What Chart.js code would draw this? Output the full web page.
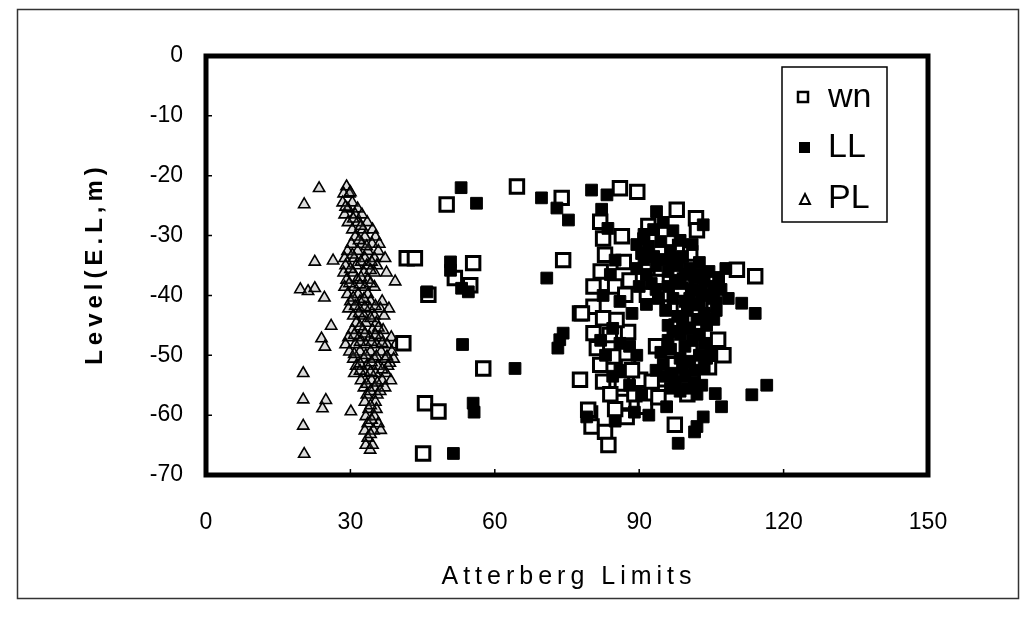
<!DOCTYPE html>
<html>
<head>
<meta charset="utf-8">
<script src="https://cdn.jsdelivr.net/npm/chart.js@4.4.1/dist/chart.umd.min.js"></script>
<style>
  html, body { margin: 0; padding: 0; background: #fff; }
  #wrap { position: relative; width: 1033px; height: 617px; }
</style>
</head>
<body>
<div id="wrap"><canvas id="chart" width="1033" height="617"></canvas></div>
<script>
// [Atterberg limit (%), level (E.L, m)]
const wnPoints = [
    [50.0,-24.8],[64.6,-21.8],[73.9,-23.7],[41.7,-33.8],[43.4,-33.8],[55.5,-34.6],[51.7,-37.1],
    [54.9,-38.3],[46.2,-39.9],[74.2,-34.1],[80.5,-38.5],[77.7,-43.0],[41.0,-48.0],[57.6,-52.2],
    [77.7,-54.1],[45.5,-58.0],[48.3,-59.4],[79.8,-59.7],[80.1,-61.9],[45.1,-66.4],
    [86.0,-22.1],[89.6,-22.7],[81.9,-27.7],[82.5,-30.5],[86.4,-30.1],[82.9,-33.2],[86.8,-34.4],
    [85.0,-38.5],[80.5,-41.9],[78.1,-43.0],[80.5,-46.3],[83.9,-46.6],[87.7,-46.1],[82.5,-54.4],
    [86.4,-54.7],[90.2,-54.1],[86.7,-57.8],[87.4,-60.3],[91.2,-58.6],[79.4,-59.1],[82.9,-62.8],
    [83.6,-65.0],[97.4,-61.6],[82.0,-36.0],[88.0,-37.5],[82.5,-43.8],[85.3,-44.1],[81.2,-48.8],
    [84.6,-50.2],[87.7,-51.9],[81.9,-51.6],[84.0,-56.5],[88.5,-52.5],[85.0,-59.0],[89.0,-56.5],
    [87.1,-39.9],[91.6,-39.9],[95.0,-39.9],[93.6,-37.7],[97.8,-25.7],[101.8,-27.1],[102.0,-29.1],
    [91.9,-28.4],[98.5,-31.9],[100.6,-33.0],[110.3,-35.7],[114.1,-36.8],[106.4,-47.4],[107.5,-50.0],
    [97.8,-45.2],[100.6,-49.4],[95.0,-54.0],[92.6,-54.4],[94.5,-35.5],[99.5,-37.5],[103.5,-39.5],
    [96.5,-42.0],[101.5,-43.5],[105.5,-41.5],[93.5,-48.5],[97.0,-51.5],[101.0,-53.0],[104.5,-52.0],
    [94.0,-57.0],[100.0,-56.5],[98.5,-39.0],[101.2,-40.0]
];
const llPoints = [
    [53.0,-22.0],[56.2,-24.6],[69.7,-23.7],[72.9,-25.4],[75.3,-27.4],[80.1,-22.4],[83.3,-23.2],
    [50.8,-34.4],[50.8,-35.8],[53.1,-38.8],[54.5,-39.4],[45.9,-39.4],[70.8,-37.1],[53.3,-48.2],
    [73.5,-47.4],[73.1,-48.8],[64.2,-52.2],[55.5,-58.0],[55.7,-59.5],[51.4,-66.4],
    [82.2,-25.6],[83.5,-28.8],[93.6,-26.0],[90.9,-30.5],[85.0,-34.1],[74.2,-46.3],[95.7,-58.6],
    [102.0,-61.9],[103.3,-60.3],[98.1,-64.7],[105.8,-56.4],[107.1,-58.6],[113.4,-56.6],[116.5,-55.0],
    [79.1,-60.3],[103.3,-28.2],[111.3,-41.3],[114.1,-43.0],[105.0,-49.7],[101.5,-62.8],
    [95.0,-27.8],[97.0,-29.2],[93.0,-29.0],[91.0,-29.8],[98.5,-30.8],[101.0,-31.5],
    [89.5,-31.5],[92.0,-31.8],[94.5,-31.0],[96.5,-32.5],[93.0,-33.5],[95.5,-34.0],[99.0,-33.5],[91.0,-34.0],
    [90.5,-33.0],[97.0,-34.0],[99.5,-36.5],[102.5,-36.5],[105.5,-38.5],
    [89.5,-35.5],[91.5,-36.5],[93.5,-35.0],[96.0,-36.0],[98.0,-35.0],[100.5,-35.5],[102.5,-34.5],
    [104.5,-36.0],[106.5,-37.0],[108.0,-35.5],[97.5,-37.5],[101.5,-37.0],[103.5,-37.5],
    [90.0,-38.5],[92.5,-38.0],[94.0,-40.5],[97.0,-40.5],[99.5,-41.0],[102.5,-41.5],[104.5,-40.0],
    [93.5,-39.0],[96.0,-38.5],[98.5,-38.0],[101.0,-39.0],[103.0,-39.5],[105.5,-40.5],[100.5,-40.5],
    [107.0,-39.0],[108.5,-40.5],[106.0,-42.5],[103.5,-43.0],[100.0,-42.5],[98.0,-43.5],[95.5,-42.5],[91.5,-41.5],
    [96.0,-45.0],[98.5,-46.5],[100.5,-45.5],[102.5,-46.5],[104.0,-45.0],[101.0,-47.5],[96.0,-47.5],
    [99.0,-44.5],[102.0,-44.0],[105.5,-44.0],[97.0,-46.0],[103.5,-48.0],[99.5,-48.5],
    [94.5,-49.5],[96.5,-49.0],[98.5,-50.5],[100.5,-51.0],[102.5,-50.0],[103.5,-52.0],[95.0,-51.5],
    [97.0,-53.0],[99.5,-53.5],[101.5,-54.5],[103.0,-55.0],[96.5,-55.5],[98.5,-56.0],[93.5,-52.5],
    [95.5,-53.5],[99.0,-52.0],[101.5,-52.5],[104.0,-50.5],[97.5,-54.5],[100.0,-55.5],[102.0,-56.5],
    [84.0,-36.5],[86.0,-41.0],[82.5,-40.0],[88.5,-43.0],[84.5,-45.5],[82.0,-47.5],[86.0,-48.0],
    [88.0,-48.5],[83.0,-50.0],[86.0,-52.5],[89.5,-50.0],[84.5,-53.5],[88.0,-55.0],[90.5,-56.5],
    [89.0,-59.5],[92.0,-60.0],[85.0,-61.0]
];
const plPoints = [
    [23.5,-22.1],[20.4,-24.8],[22.6,-34.4],[26.4,-34.2],[19.6,-39.0],[21.2,-39.3],[22.6,-38.8],
    [24.6,-40.4],[26.0,-45.1],[24.0,-47.2],[24.7,-48.6],[20.2,-53.0],[20.2,-57.4],[24.2,-58.9],
    [24.9,-57.5],[30.1,-59.4],[20.2,-61.8],[20.4,-66.5],[36.3,-62.5],[39.3,-37.7],[38.2,-51.3],
    [34.1,-65.8],
    [29.2,-21.8],[28.6,-23.0],[29.8,-23.0],[28.4,-24.5],[30.4,-24.5],[29.5,-25.5],[31.5,-25.5],
    [28.8,-26.5],[31.0,-26.5],[32.4,-26.5],[29.5,-27.8],[31.5,-27.8],[33.5,-27.8],
    [30.4,-29.0],[32.6,-29.0],[34.6,-29.0],[31.0,-30.2],[33.0,-30.2],[35.2,-30.2],
    [30.2,-31.4],[32.4,-31.4],[34.5,-31.4],[36.0,-31.4],[29.4,-32.6],[31.5,-32.6],[33.6,-32.6],[35.8,-32.6],
    [28.8,-33.8],[30.8,-33.8],[33.0,-33.8],[35.0,-33.8],[37.2,-33.8],[29.0,-35.0],[31.2,-35.0],[33.4,-35.0],[35.5,-35.0],
    [28.6,-36.2],[30.6,-36.2],[32.8,-36.2],[35.0,-36.2],[37.5,-36.2],[29.2,-37.4],[31.4,-37.4],[33.6,-37.4],
    [28.8,-38.6],[30.8,-38.6],[33.0,-38.6],[35.0,-38.6],[29.4,-39.8],[31.6,-39.8],[33.6,-39.8],
    [30.0,-41.0],[32.0,-41.0],[34.2,-41.0],[36.6,-41.0],[29.6,-42.2],[31.8,-42.2],[34.0,-42.2],[36.2,-42.2],[38.0,-42.2],
    [30.6,-43.4],[32.8,-43.4],[35.0,-43.4],[37.0,-43.4],[31.2,-44.6],[33.2,-44.6],[35.4,-44.6],
    [30.4,-45.8],[32.6,-45.8],[34.6,-45.8],[36.8,-45.8],[29.6,-47.0],[31.8,-47.0],[34.0,-47.0],[36.2,-47.0],[38.5,-47.0],
    [29.0,-48.2],[31.0,-48.2],[33.2,-48.2],[35.4,-48.2],[37.6,-48.2],[39.4,-48.2],
    [29.8,-49.4],[32.0,-49.4],[34.2,-49.4],[36.4,-49.4],[38.6,-49.4],
    [30.6,-50.6],[32.8,-50.6],[35.0,-50.6],[37.2,-50.6],[39.0,-50.6],[31.2,-51.8],[33.4,-51.8],[35.6,-51.8],[37.8,-51.8],
    [30.8,-53.0],[33.0,-53.0],[35.2,-53.0],[37.4,-53.0],[32.2,-54.2],[34.4,-54.2],[36.6,-54.2],[38.4,-54.2],
    [32.8,-55.4],[35.0,-55.4],[37.2,-55.4],[33.4,-56.6],[35.6,-56.6],[33.0,-57.8],[35.2,-57.8],
    [33.8,-59.0],[35.4,-59.0],[33.2,-60.2],[35.0,-60.2],[33.6,-61.4],[35.8,-61.4],[33.0,-62.6],[34.8,-62.6],
    [33.6,-63.8],[33.2,-65.0],[34.6,-65.0],
    [30.0,-22.8],[29.0,-25.2],[30.6,-27.2],[32.2,-28.4],[31.8,-30.8],[33.4,-31.8],[30.4,-33.2],[32.2,-34.4],
    [34.4,-34.4],[30.0,-35.6],[34.2,-35.8],[32.2,-37.0],[29.8,-38.0],[32.0,-38.2],[34.2,-38.0],[30.6,-40.4],
    [32.8,-40.6],[31.0,-41.8],[33.0,-42.0],[35.2,-41.8],[31.8,-43.0],[34.2,-43.8],[32.0,-45.2],[35.8,-45.4],
    [30.8,-46.6],[33.0,-46.4],[35.2,-46.6],[32.0,-47.8],[34.4,-47.8],[36.6,-48.0],[30.8,-49.8],[33.2,-50.0],
    [35.4,-50.2],[37.6,-50.2],[32.0,-51.4],[34.4,-51.2],[36.6,-52.4],[32.0,-52.6],[34.2,-52.8],[33.4,-54.8],
    [35.6,-54.6],[34.2,-56.0],[36.2,-56.0],[34.2,-58.4],[34.4,-60.8],[34.2,-63.2]
];
const seriesNames = ['wn', 'LL', 'PL'];
const FONT = '"Liberation Sans", Arial, sans-serif';

const toXY = pts => pts.map(p => ({ x: p[0], y: p[1] }));

const framePlugin = {
    id: 'frame',
    beforeDraw(chart) {
        const ctx = chart.ctx;
        ctx.save();
        ctx.fillStyle = '#fff';
        ctx.fillRect(0, 0, chart.width, chart.height);
        ctx.strokeStyle = '#333';
        ctx.lineWidth = 1.5;
        ctx.strokeRect(17.5, 9.5, 1001, 589);
        ctx.restore();
    },
    afterDatasetsDraw(chart) {
        const { ctx, chartArea: a, scales } = chart;
        ctx.save();
        ctx.strokeStyle = '#000';
        ctx.lineWidth = 1.5;
        ctx.beginPath();
        scales.x.ticks.forEach(t => {
            const px = scales.x.getPixelForValue(t.value);
            ctx.moveTo(px, a.bottom); ctx.lineTo(px, a.bottom - 6);
        });
        scales.y.ticks.forEach(t => {
            const py = scales.y.getPixelForValue(t.value);
            ctx.moveTo(a.left, py); ctx.lineTo(a.left + 6, py);
        });
        ctx.stroke();
        ctx.lineWidth = 5;
        ctx.strokeRect(a.left, a.top, a.right - a.left, a.bottom - a.top);
        ctx.restore();
    },
    afterDraw(chart) {
        const { ctx, chartArea: a } = chart;
        ctx.save();
        ctx.fillStyle = '#000';
        ctx.textAlign = 'center';
        ctx.textBaseline = 'middle';
        // axis titles
        ctx.letterSpacing = '5px';
        ctx.font = '25px ' + FONT;
        ctx.fillText('Atterberg Limits', (a.left + a.right) / 2 + 2, 577);
        ctx.translate(95, (a.top + a.bottom) / 2);
        ctx.rotate(-Math.PI / 2);
        ctx.font = 'bold 24px ' + FONT;
        ctx.fillText('Level(E.L,m)', 2, 0);
        ctx.restore();

        // legend box inside the plot
        ctx.save();
        ctx.strokeStyle = '#000';
        ctx.lineWidth = 1.5;
        ctx.strokeRect(782, 67, 105, 155);
        ctx.font = '34px ' + FONT;
        ctx.textAlign = 'left';
        ctx.textBaseline = 'middle';
        ctx.fillStyle = '#000';
        const rows = [97, 147, 198];
        ctx.lineWidth = 2.5;
        ctx.strokeRect(798, 92, 10, 10);
        ctx.fillRect(799, 142, 11, 11);
        ctx.lineWidth = 2;
        ctx.beginPath();
        ctx.moveTo(805, 194); ctx.lineTo(810, 204); ctx.lineTo(800, 204); ctx.closePath();
        ctx.stroke();
        seriesNames.forEach((n, i) => ctx.fillText(n, 828, rows[i] + 1));
        ctx.restore();
    }
};

new Chart(document.getElementById('chart'), {
    type: 'scatter',
    data: {
        datasets: [
            {
                label: seriesNames[0], data: toXY(wnPoints), order: 1,
                pointStyle: 'rect', pointRadius: 9.5, borderWidth: 3,
                borderColor: '#000', backgroundColor: '#fff'
            },
            {
                label: seriesNames[1], data: toXY(llPoints), order: 0,
                pointStyle: 'rect', pointRadius: 8.3, borderWidth: 1,
                borderColor: '#000', backgroundColor: '#000'
            },
            {
                label: seriesNames[2], data: toXY(plPoints), order: 2,
                pointStyle: 'triangle', pointRadius: 6.5, borderWidth: 1.6,
                borderColor: '#000', backgroundColor: 'rgba(90,90,90,0.22)'
            }
        ]
    },
    options: {
        responsive: false,
        animation: false,
        events: [],
        layout: { padding: { left: 0, top: 56, right: 105, bottom: 0 } },
        plugins: { legend: { display: false }, tooltip: { enabled: false } },
        scales: {
            x: {
                type: 'linear', min: 0, max: 150,
                ticks: { stepSize: 30, color: '#000', font: { size: 23, family: FONT }, padding: 34 },
                grid: { display: false, drawTicks: false },
                border: { display: false },
                afterFit(s) { s.height = 142; }
            },
            y: {
                type: 'linear', min: -70, max: 0,
                ticks: { stepSize: 10, color: '#000', font: { size: 23, family: FONT }, padding: 23 },
                grid: { display: false, drawTicks: false },
                border: { display: false },
                afterFit(s) { s.width = 206; }
            }
        }
    },
    plugins: [framePlugin]
});
</script>
</body>
</html>
